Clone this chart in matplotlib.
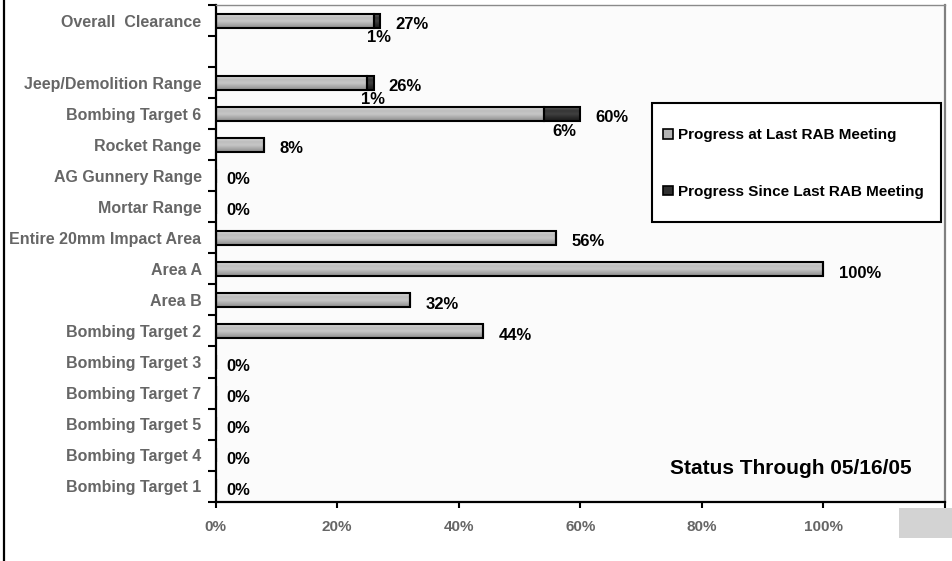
import numpy as np
import matplotlib
matplotlib.use('Agg')
import matplotlib.pyplot as plt
from matplotlib.colors import LinearSegmentedColormap
from matplotlib.patches import Patch, Rectangle
from matplotlib.lines import Line2D

plt.rcParams['font.family'] = ['Liberation Sans', 'DejaVu Sans']
plt.rcParams['font.weight'] = 'bold'

# chart data (top to bottom), blank slot after the overall row
categories = ["Overall  Clearance", "", "Jeep/Demolition Range", "Bombing Target 6",
              "Rocket Range", "AG Gunnery Range", "Mortar Range",
              "Entire 20mm Impact Area", "Area A", "Area B", "Bombing Target 2",
              "Bombing Target 3", "Bombing Target 7", "Bombing Target 5",
              "Bombing Target 4", "Bombing Target 1"]
last_meeting = [26, np.nan, 25, 54, 8, 0, 0, 56, 100, 32, 44, 0, 0, 0, 0, 0]
since_meeting = [1, np.nan, 1, 6, 0, 0, 0, 0, 0, 0, 0, 0, 0, 0, 0, 0]
x_ticks = [0, 20, 40, 60, 80, 100, 120]
x_labels = ["0%", "20%", "40%", "60%", "80%", "100%", ""]
series_names = ["Progress at Last RAB Meeting", "Progress Since Last RAB Meeting"]
status_text = "Status Through 05/16/05"

GREY_SHADES = ['#dadada', '#bdbdbd', '#c6c6c6', '#a9a9a9', '#8c8c8c']
DARK_SHADES = ['#5e5e5e', '#363636', '#404040', '#2a2a2a', '#1c1c1c']
LABEL_GREY = '#666666'

W, H = 952, 561


def shade_bars(ax, bars, shades):
    """Fill each bar with a vertical grey gradient clipped to the bar."""
    cmap = LinearSegmentedColormap.from_list('shade', shades)
    grad = np.linspace(0, 1, 64).reshape(-1, 1)
    for b in bars:
        w = b.get_width()
        if not np.isfinite(w) or w <= 0:
            continue
        x, y, h = b.get_x(), b.get_y(), b.get_height()
        im = ax.imshow(grad, cmap=cmap, extent=(x, x + w, y + h, y),
                       aspect='auto', interpolation='bilinear', zorder=2)
        im.set_clip_path(b)


def main():
    fig = plt.figure(figsize=(W / 100, H / 100), dpi=100, facecolor='white')
    ax = fig.add_axes([215.5 / W, 1 - 501.7 / H, (945 - 215.5) / W, (501.7 - 5) / H])
    ax.set_facecolor('#fbfbfb')

    pos = np.arange(len(categories))
    last = np.array(last_meeting, dtype=float)
    since = np.array(since_meeting, dtype=float)

    bars_last = ax.barh(pos, last, height=0.45, facecolor='none',
                        edgecolor='black', linewidth=1.5, zorder=3)
    bars_since = ax.barh(pos, since, left=last, height=0.45, facecolor='none',
                         edgecolor='black', linewidth=1.5, zorder=3)
    shade_bars(ax, bars_last, GREY_SHADES)
    shade_bars(ax, bars_since, DARK_SHADES)

    # value labels
    for i in pos:
        if np.isnan(last[i]):
            continue
        total = last[i] + since[i]
        dx = 11 if total > 0 else 7.5
        ax.annotate(f"{total:.0f}%", (total, i), xytext=(dx, -3),
                    textcoords='offset points', ha='left', va='center',
                    fontsize=12, fontweight='bold', color='black')
        if since[i] > 0:
            ax.annotate(f"{since[i]:.0f}%", (last[i] + since[i] / 2, i),
                        xytext=(2, -12.5), textcoords='offset points',
                        ha='center', va='center', fontsize=12,
                        fontweight='bold', color='black')

    ax.set_xlim(0, 120)
    ax.set_ylim(len(categories) - 0.5, -0.5)

    ax.set_yticks(pos)
    ax.set_yticklabels(categories, fontsize=11.5, fontweight='bold', color=LABEL_GREY)
    ax.tick_params(axis='y', which='major', length=0, pad=10)
    ax.set_yticks(np.arange(-0.5, len(categories)), minor=True)
    ax.tick_params(axis='y', which='minor', length=6, width=1.5, direction='out')

    ax.set_xticks(x_ticks)
    ax.set_xticklabels(x_labels, fontsize=11, fontweight='bold', color=LABEL_GREY)
    ax.tick_params(axis='x', length=4.5, width=1.5, direction='out', pad=9)

    for side in ('left', 'bottom'):
        ax.spines[side].set_color('black')
        ax.spines[side].set_linewidth(1.6)
    ax.spines['top'].set_color('#8a8a8a')
    ax.spines['top'].set_linewidth(1.0)
    ax.spines['right'].set_color('#808080')
    ax.spines['right'].set_linewidth(1.6)

    ax.text(912 / W, 1 - 468 / H, status_text, transform=fig.transFigure,
            ha='right', va='center', fontsize=15, fontweight='bold', color='black')

    # legend: frame drawn separately to get the wide vertical spacing
    fig.add_artist(Rectangle((652 / W, 1 - 222 / H), (941 - 652) / W, (222 - 103) / H,
                             transform=fig.transFigure, facecolor='white',
                             edgecolor='black', linewidth=1.5, zorder=4))
    handles = [Patch(facecolor='#b4b4b4', edgecolor='black', linewidth=1.2),
               Patch(facecolor='#303030', edgecolor='black', linewidth=1.2)]
    fig.legend(handles, series_names, loc='center left',
               bbox_to_anchor=(655 / W, 1 - 163.5 / H), frameon=False,
               borderpad=0, labelspacing=2.75, handlelength=0.7,
               handleheight=0.55, handletextpad=0.3,
               prop={'size': 11, 'weight': 'bold'})

    # grey block bottom right and left page border
    fig.add_artist(Rectangle((899 / W, 1 - 538 / H), (W - 899) / W, 30 / H,
                             transform=fig.transFigure, facecolor='#d3d3d3',
                             edgecolor='none', zorder=4))
    fig.add_artist(Line2D([3.5 / W, 3.5 / W], [0, 1], transform=fig.transFigure,
                          color='black', linewidth=1.6))

    fig.savefig('out.png', dpi=100, facecolor='white')


if __name__ == "__main__":
    main()
